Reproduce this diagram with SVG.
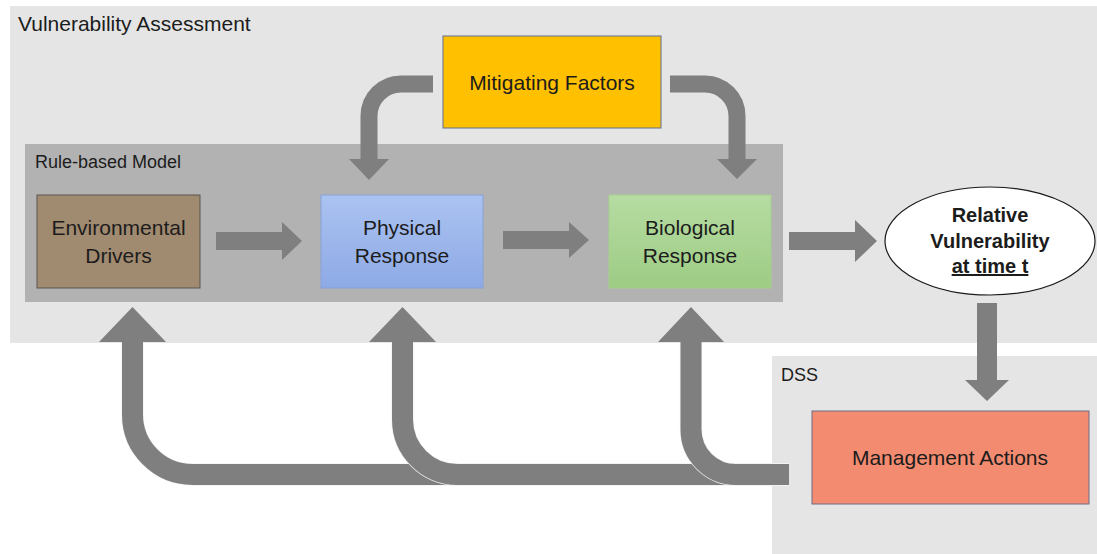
<svg xmlns="http://www.w3.org/2000/svg" width="1097" height="554" viewBox="0 0 1097 554">
  <defs>
    <linearGradient id="gPhys" x1="0" y1="0" x2="0" y2="1">
      <stop offset="0" stop-color="#abc3f1"/>
      <stop offset="1" stop-color="#8eaae6"/>
    </linearGradient>
    <linearGradient id="gBio" x1="0" y1="0" x2="0" y2="1">
      <stop offset="0" stop-color="#b6dca2"/>
      <stop offset="1" stop-color="#9dcc84"/>
    </linearGradient>
  </defs>
  <style>
    text { font-family: "Liberation Sans", Arial, sans-serif; fill: #1c1c1c; }
    .lbl { font-size: 21px; text-anchor: middle; }
    .title { font-size: 21px; }
    .bold { font-size: 20px; font-weight: bold; text-anchor: middle; }
    .arrow { fill: #7f7f7f; }
    .band { fill: none; stroke: #7f7f7f; stroke-linejoin: round; }
    .halo { fill: none; stroke: #f2f2f2; }
  </style>

  <rect width="1097" height="554" fill="#ffffff"/>

  <!-- containers -->
  <g id="vulnerability-assessment">
    <rect x="10" y="6" width="1087" height="337" fill="#e5e5e5"/>
    <text class="title" x="18" y="31">Vulnerability Assessment</text>
  </g>
  <g id="dss">
    <rect x="772" y="356" width="325" height="198" fill="#e5e5e5"/>
    <text x="781" y="381" font-size="18">DSS</text>
  </g>
  <g id="rule-based-model">
    <rect x="25" y="144" width="758" height="158" fill="#b2b2b2"/>
    <text x="35" y="168" font-size="18">Rule-based Model</text>
  </g>

  <!-- nodes -->
  <g id="mitigating-factors">
    <rect x="443" y="36" width="218" height="92" fill="#ffc000" stroke="#5f7092" stroke-width="1"/>
    <text class="lbl" x="552" y="90">Mitigating Factors</text>
  </g>
  <g id="environmental-drivers">
    <rect x="37" y="195" width="163" height="93" fill="#a08a70" stroke="#5a5550" stroke-width="1"/>
    <text class="lbl" x="118.5" y="235">Environmental</text>
    <text class="lbl" x="118.5" y="263">Drivers</text>
  </g>
  <g id="physical-response">
    <rect x="321" y="195" width="162" height="93" fill="url(#gPhys)" stroke="#86a2d8" stroke-width="1"/>
    <text class="lbl" x="402" y="235">Physical</text>
    <text class="lbl" x="402" y="263">Response</text>
  </g>
  <g id="biological-response">
    <rect x="609" y="195" width="162" height="93" fill="url(#gBio)" stroke="#a6cf8c" stroke-width="1"/>
    <text class="lbl" x="690" y="235">Biological</text>
    <text class="lbl" x="690" y="263">Response</text>
  </g>
  <g id="relative-vulnerability">
    <ellipse cx="990" cy="241" rx="105" ry="54" fill="#ffffff" stroke="#1a1a1a" stroke-width="1.2"/>
    <text class="bold" x="990" y="222">Relative</text>
    <text class="bold" x="990" y="248">Vulnerability</text>
    <text class="bold" x="990" y="273" text-decoration="underline">at time t</text>
  </g>
  <g id="management-actions">
    <rect x="812" y="411" width="277" height="93" fill="#f28b70" stroke="#716a86" stroke-width="1"/>
    <text class="lbl" x="950" y="465">Management Actions</text>
  </g>

  <!-- connectors -->
  <g id="connectors">
    <!-- mitigating factors feed both responses -->
    <path class="band" stroke-width="17" d="M433,84 H401 A32,32 0 0 0 369,116 V160"/>
    <polygon class="arrow" points="349,159 389,159 369,180"/>
    <path class="band" stroke-width="17" d="M670,84 H705 A32,32 0 0 1 737,116 V160"/>
    <polygon class="arrow" points="717,159 757,159 737,179"/>

    <!-- model chain -->
    <polygon class="arrow" points="216,232 282,232 282,222 302,241 282,260 282,250 216,250"/>
    <polygon class="arrow" points="503,231 569,231 569,222 589,240 569,258 569,249 503,249"/>
    <polygon class="arrow" points="789,232 855,232 855,220 877,241 855,262 855,250 789,250"/>

    <!-- vulnerability to decision support -->
    <polygon class="arrow" points="977,303 997,303 997,380 1009,380 987,401 965,380 977,380"/>

    <!-- management feedback loops -->
    <path class="halo" stroke-width="22.4" d="M789,474.5 H192.5 A60,60 0 0 1 132.5,414.5 V343"/>
    <path class="band" stroke-width="21" d="M789,474.5 H192.5 A60,60 0 0 1 132.5,414.5 V342"/>
    <polygon class="arrow" points="99,342 166,342 132.5,307"/>

    <path class="halo" stroke-width="22.4" d="M789,474.5 H457.5 A55,55 0 0 1 402.5,419.5 V343"/>
    <path class="band" stroke-width="21" d="M789,474.5 H457.5 A55,55 0 0 1 402.5,419.5 V342"/>
    <polygon class="arrow" points="369,342 436,342 402.5,307"/>

    <path class="halo" stroke-width="22.4" d="M789,474.5 H736 A45,45 0 0 1 691,429.5 V343"/>
    <path class="band" stroke-width="21" d="M789,474.5 H736 A45,45 0 0 1 691,429.5 V342"/>
    <polygon class="arrow" points="658,342 724,342 691,307"/>
  </g>
</svg>
